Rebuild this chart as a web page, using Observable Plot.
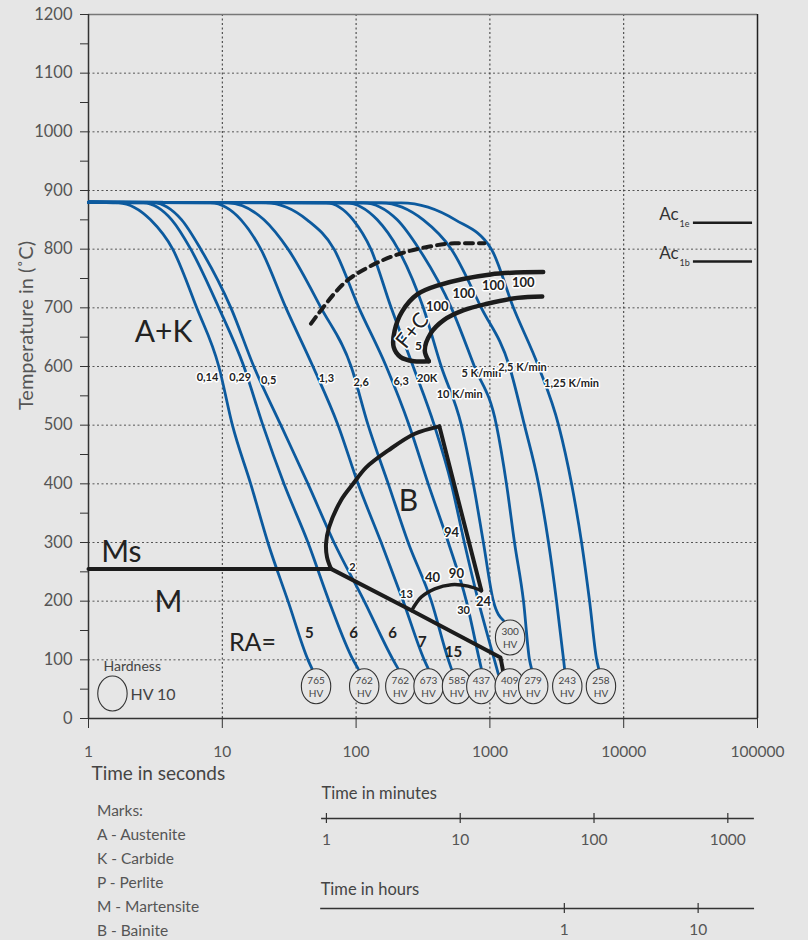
<!DOCTYPE html>
<html><head><meta charset="utf-8">
<script src="https://cdn.jsdelivr.net/npm/d3@7"></script>
<script src="https://cdn.jsdelivr.net/npm/@observablehq/plot@0.6"></script>
<style>
body{margin:0;background:#e6e6e6;}
#wrap{position:relative;width:808px;height:940px;background:#e6e6e6;font-family:Lato,sans-serif;overflow:hidden}
#wrap > svg{position:absolute;left:0}
#marks{position:absolute;left:97px;top:798px;font-size:15.5px;line-height:24px;color:#555}
</style></head><body><div id="wrap"></div>
<script>
// ---- cooling curves: [time s, temperature °C] ----
const c_0_14 = [[1,880],[1.68,879],[2.91,850],[4.26,800],[6.44,700],[9.42,600],[11.9,500],[16.3,400],[21.9,300],[31.0,200],[43.7,100],[46.8,85]];
const c_0_29 = [[1,880],[2.58,879],[4.19,850],[5.81,800],[9.42,700],[14.5,600],[20.1,500],[28.9,400],[43.7,300],[62.8,200],[95.0,100],[103.5,85]];
const c_0_5  = [[1,880],[3.07,879],[4.97,850],[6.90,800],[11.6,700],[17.2,600],[27.4,500],[43.7,400],[68.4,300],[115,200],[189,100],[206,85]];
const c_1_3  = [[1,880],[8.2,879],[13.8,850],[19.4,800],[29.9,700],[47.6,600],[73.3,500],[103.5,400],[154,300],[225,200],[323,100],[346,85]];
const c_2_6  = [[1,880],[11.0,879],[20.5,850],[31.0,800],[54.7,700],[91.8,600],[123,500],[174,400],[245,300],[365,200],[489,100],[515,85]];
const c_6_3  = [[1,880],[21.2,879],[43.0,850],[68.4,800],[105,700],[168,600],[249,500],[346,400],[489,300],[667,200],[834,100],[863,85]];
const c_20K  = [[1,880],[59.6,879],[95,850],[129,800],[183,700],[267,600],[384,500],[515,400],[644,300],[820,200],[1081,100],[1159,75]];
const c_10K  = [[1,880],[84.1,879],[144,850],[206,800],[318,700],[433,600],[612,500],[752,400],[894,300],[1062,200],[1262,167]];
const c_5K   = [[1,880],[113,879],[203,850],[296,800],[515,700],[766,600],[1119,500],[1330,400],[1527,300],[1783,200],[1977,100],[2047,85]];
const c_2_5K = [[1,880],[154,879],[318,850],[515,800],[863,700],[1400,600],[1813,500],[2308,400],[2742,300],[3148,200],[3554,100],[3614,85]];
const c_1_25K= [[1,880],[217,879],[552,850],[1026,800],[1500,700],[2308,600],[3260,500],[4077,400],[4844,300],[5559,200],[6281,100],[6506,85]];
const coolingCurves = [c_0_14,c_0_29,c_0_5,c_1_3,c_2_6,c_6_3,c_20K,c_10K,c_5K,c_2_5K,c_1_25K];

// ---- curve labels ----
const curveLabels = ["0,14","0,29","0,5","1,3","2,6","6,3","20K","10 K/min","5 K/min","2,5 K/min","1,25 K/min"];
const curveLabelTimes = [7.75,13.6,22.2,60.0,109,217,340,594,863,1750,4077];
const curveLabelTemps = [582,582,576,579,572,575,579,552,588,598,571];

// ---- transformation boundaries ----
const msLine = [[1,255],[65,255]];
const bainiteNose = [[65,255],[60.6,275],[59.6,298],[62.8,326],[77.2,372],[95,400],[119,428],[174,457],[272,485],[419,498]];
const bainiteRight = [[419,498],[863,218]];
const bainiteInner = [[863,218],[687,225.6],[515,228],[387,221],[307,207],[260,184]];
const martensiteLower = [[65,255],[260,184],[1199,104],[1262,78]];
const pearliteOuter = [[2502,761],[1010,757],[404,738],[286,723],[221,694],[194,661],[191,633],[215,616],[270,609],[349,609]];
const pearliteInner = [[349,609],[326,627.5],[360,656],[452,679],[638,696],[955,707],[1600,717],[2460,719.5]];
const carbideLine = [[46,673],[54.7,696],[81.3,742],[123,769],[193,789],[346,804],[542,810],[910,810]];

// ---- phase amounts (%) ----
const bainitePct = ["2","13","40","90","94","30","24"];
const bainitePctTimes = [94,238,372,562,516,635,896];
const bainitePctTemps = [257,211,239,247,317,184,199.5];
const bainitePctSizes = [11,11,13,13,13,11,13];
const pearlitePct = ["100","100","100","100"];
const pearlitePctTimes = [404,638,1059,1774];
const pearlitePctTemps = [702.5,724,737,743];
const retainedAustenite = ["5","6","6","7","15"];
const raTimes = [44.8,95.6,187,313,535];
const raTemps = [145,145,145,129.6,112.5];

// ---- hardness HV10 ----
const hardnessValues = [765,762,762,673,585,437,409,279,243,258,300];
const hardnessTimes = [50.2,115,214,348,568,863,1407,2107,3787,6761,1416];
const hardnessTemps = [55,55,55,55,55,55,55,55,55,55,138];

// ---- axes ----
const secondsTicks = [1,10,100,1000,10000,100000];
const tempTicks = d3.range(0,1201,50);
const minuteTicks = [1,10,100,1000];
const minuteSpan = [0.92,1580];
const hourTicks = [1,10];
const hourSpan = [0.0151,26.4];
const marksList = ["Marks:","A - Austenite","K - Carbide","P - Perlite","M - Martensite","B - Bainite"];

const BLUE = "#0c5a9e", BLACK = "#1c1c1c", BG = "#e6e6e6";
const FONT = "Lato, sans-serif";

const ellipseSymbol = {
  draw(ctx, size) {
    const ry = Math.sqrt(size / Math.PI), rx = ry * 0.84, k = 0.5523;
    ctx.moveTo(rx, 0);
    ctx.bezierCurveTo(rx, ry*k, rx*k, ry, 0, ry);
    ctx.bezierCurveTo(-rx*k, ry, -rx, ry*k, -rx, 0);
    ctx.bezierCurveTo(-rx, -ry*k, -rx*k, -ry, 0, -ry);
    ctx.bezierCurveTo(rx*k, -ry, rx, -ry*k, rx, 0);
    ctx.closePath();
  }
};

const px = d => d[0], py = d => d[1];
const halo = {stroke: "white", strokeWidth: 3, paintOrder: "stroke"};
const curveLabelData = curveLabels.map((l,i) => ({l, t: curveLabelTimes[i], T: curveLabelTemps[i]}));
const bainiteData = bainitePct.map((l,i) => ({l, t: bainitePctTimes[i], T: bainitePctTemps[i], s: bainitePctSizes[i]}));
const pearliteData = pearlitePct.map((l,i) => ({l, t: pearlitePctTimes[i], T: pearlitePctTemps[i]}));
const raData = retainedAustenite.map((l,i) => ({l, t: raTimes[i], T: raTemps[i]}));
const hvData = hardnessValues.map((v,i) => ({l: v + "\nHV", t: hardnessTimes[i], T: hardnessTemps[i]}));

const common = {width: 808, marginLeft: 88, marginRight: 51, style: {background: "transparent", fontFamily: FONT, overflow: "visible"}};
const X = {type: "log", domain: [1, 1e5]};

const main = Plot.plot({
  ...common, height: 790, marginTop: 14, marginBottom: 72,
  x: X, y: {domain: [0, 1200]},
  marks: [
    Plot.gridY(d3.range(100,1200,100), {stroke: "#555", strokeOpacity: 1, strokeDasharray: "2,2.5"}),
    Plot.gridX([10,100,1000,10000], {stroke: "#333", strokeOpacity: 1, strokeDasharray: "2,2.5"}),
    Plot.ruleY([1200], {stroke: "#777", strokeWidth: 1.5}),
    Plot.ruleX([1e5], {stroke: "#222", strokeWidth: 1.5}),
    Plot.ruleX([1], {stroke: "#333", strokeWidth: 1.5}),
    Plot.ruleY([0], {stroke: "#333", strokeWidth: 1.5}),
    Plot.axisY({ticks: tempTicks, tickFormat: d => d % 100 === 0 ? String(d) : "", tickSize: 8, tickPadding: 8, fontSize: 16.5, fill: "#555", stroke: "#333", label: null}),
    Plot.axisX({ticks: secondsTicks, tickFormat: d => String(d), tickSize: 10, tickPadding: 17, fontSize: 15.5, fill: "#555", stroke: "#333", label: null}),
    Plot.text(["Temperature in (˚C)"], {frameAnchor: "left", dx: -62, dy: -41, rotate: -90, textAnchor: "middle", lineAnchor: "middle", fontSize: 20, fill: "#555"}),
    Plot.text(["Time in seconds"], {frameAnchor: "bottom-left", dx: 3, dy: 55, textAnchor: "start", lineAnchor: "middle", fontSize: 19, fill: "#444"}),
    // cooling curves
    ...coolingCurves.map(c => Plot.line(c, {x: px, y: py, curve: "monotone-x", stroke: BLUE, strokeWidth: 2.8})),
    // boundaries
    Plot.line(carbideLine, {x: px, y: py, curve: "monotone-x", stroke: BLACK, strokeWidth: 4, strokeDasharray: "8,6"}),
    Plot.line(msLine, {x: px, y: py, stroke: BLACK, strokeWidth: 4}),
    Plot.line(bainiteNose, {x: px, y: py, curve: "catmull-rom", stroke: BLACK, strokeWidth: 4}),
    Plot.line(bainiteRight, {x: px, y: py, stroke: BLACK, strokeWidth: 4}),
    Plot.line(bainiteInner, {x: px, y: py, curve: "catmull-rom", stroke: BLACK, strokeWidth: 3.5}),
    Plot.line(martensiteLower, {x: px, y: py, stroke: BLACK, strokeWidth: 4}),
    Plot.line(pearliteOuter, {x: px, y: py, curve: "catmull-rom", stroke: BLACK, strokeWidth: 4.5}),
    Plot.line(pearliteInner, {x: px, y: py, curve: "catmull-rom", stroke: BLACK, strokeWidth: 4.5}),
    // region labels
    Plot.text(["A+K"], {x: [3.64], y: [658], fontSize: 30, fill: "#222"}),
    Plot.text(["Ms"], {x: [1.76], y: [283], fontSize: 30, fill: "#222"}),
    Plot.text(["M"], {x: [3.96], y: [198], fontSize: 30, fill: "#222"}),
    Plot.text(["B"], {x: [246], y: [370], fontSize: 30, fill: "#222"}),
    Plot.text(["RA="], {x: [16.8], y: [128], fontSize: 25, fill: "#222"}),
    Plot.text(["F+C"], {x: [264], y: [661], fontSize: 21, rotate: -51, fill: "#222", ...halo}),
    Plot.text(["5"], {x: [293], y: [634], fontSize: 12, fontWeight: "bold", fill: "#222", ...halo}),
    // curve labels
    Plot.text(curveLabelData, {x: "t", y: "T", text: "l", fontSize: 11, fontWeight: "bold", fill: "#222", ...halo}),
    Plot.text(pearliteData, {x: "t", y: "T", text: "l", fontSize: 13, fontWeight: "bold", fill: "#222", ...halo}),
    Plot.text(bainiteData, {x: "t", y: "T", text: "l", fontSize: "s", fontWeight: "bold", fill: "#222", ...halo}),
    Plot.text(raData, {x: "t", y: "T", text: "l", fontSize: 15, fontWeight: "bold", fill: "#222"}),
    // Ac legend
    Plot.text(["Ac", "Ac"], {x: [25700, 25700], y: [859, 793], textAnchor: "end", fontSize: 17, fill: "#333"}),
    Plot.text(["1e", "1b"], {x: [26100, 26100], y: [843, 777], textAnchor: "start", fontSize: 9, fill: "#333"}),
    Plot.ruleY([845, 779], {x1: 33200, x2: 91800, stroke: BLACK, strokeWidth: 2.5}),
    // hardness
    Plot.dot(hvData, {x: "t", y: "T", r: 17.5, symbol: ellipseSymbol, fill: BG, stroke: "#333", strokeWidth: 1.1}),
    Plot.text(hvData, {x: "t", y: "T", text: "l", fontSize: 10, lineHeight: 1.3, fill: "#444"}),
    Plot.dot([0], {x: [1.51], y: [42.6], r: 17.5, symbol: ellipseSymbol, fill: BG, stroke: "#333", strokeWidth: 1.1}),
    Plot.text(["Hardness"], {x: [1.295], y: [88.7], textAnchor: "start", fontSize: 14, fill: "#444"}),
    Plot.text(["HV 10"], {x: [2.06], y: [41], textAnchor: "start", fontSize: 16, fill: "#444"})
  ]
});
main.style.top = "0px";

function timeAxis(ticks, span, unit, label, top, labelOffset) {
  const svg = Plot.plot({
    ...common, height: 75, marginTop: 33, marginBottom: 32,
    x: {...X, axis: null}, y: {domain: [0, 1], axis: null},
    marks: [
      Plot.ruleY([0.5], {x1: span[0] * unit, x2: span[1] * unit, stroke: "#333", strokeWidth: 1.3}),
      Plot.tickX(ticks, {x: d => d * unit, stroke: "#333", strokeWidth: 1.2}),
      Plot.text(ticks, {x: d => d * unit, text: d => String(d), frameAnchor: "bottom", lineAnchor: "middle", dy: 17, fontSize: 15.5, fill: "#555"}),
      Plot.text([label], {x: [span[0] * unit], frameAnchor: "top", lineAnchor: "middle", dy: labelOffset, textAnchor: "start", fontSize: 16.5, fill: "#444"})
    ]
  });
  svg.style.top = top + "px";
  return svg;
}
const minutesSvg = timeAxis(minuteTicks, minuteSpan, 60, "Time in minutes", 780, -20);
const hoursSvg = timeAxis(hourTicks, hourSpan, 3600, "Time in hours", 870, -14);

const wrap = document.getElementById("wrap");
wrap.append(main, minutesSvg, hoursSvg);
const marksDiv = document.createElement("div");
marksDiv.id = "marks";
marksDiv.innerHTML = marksList.map(s => `<div>${s}</div>`).join("");
wrap.append(marksDiv);
</script></body></html>
